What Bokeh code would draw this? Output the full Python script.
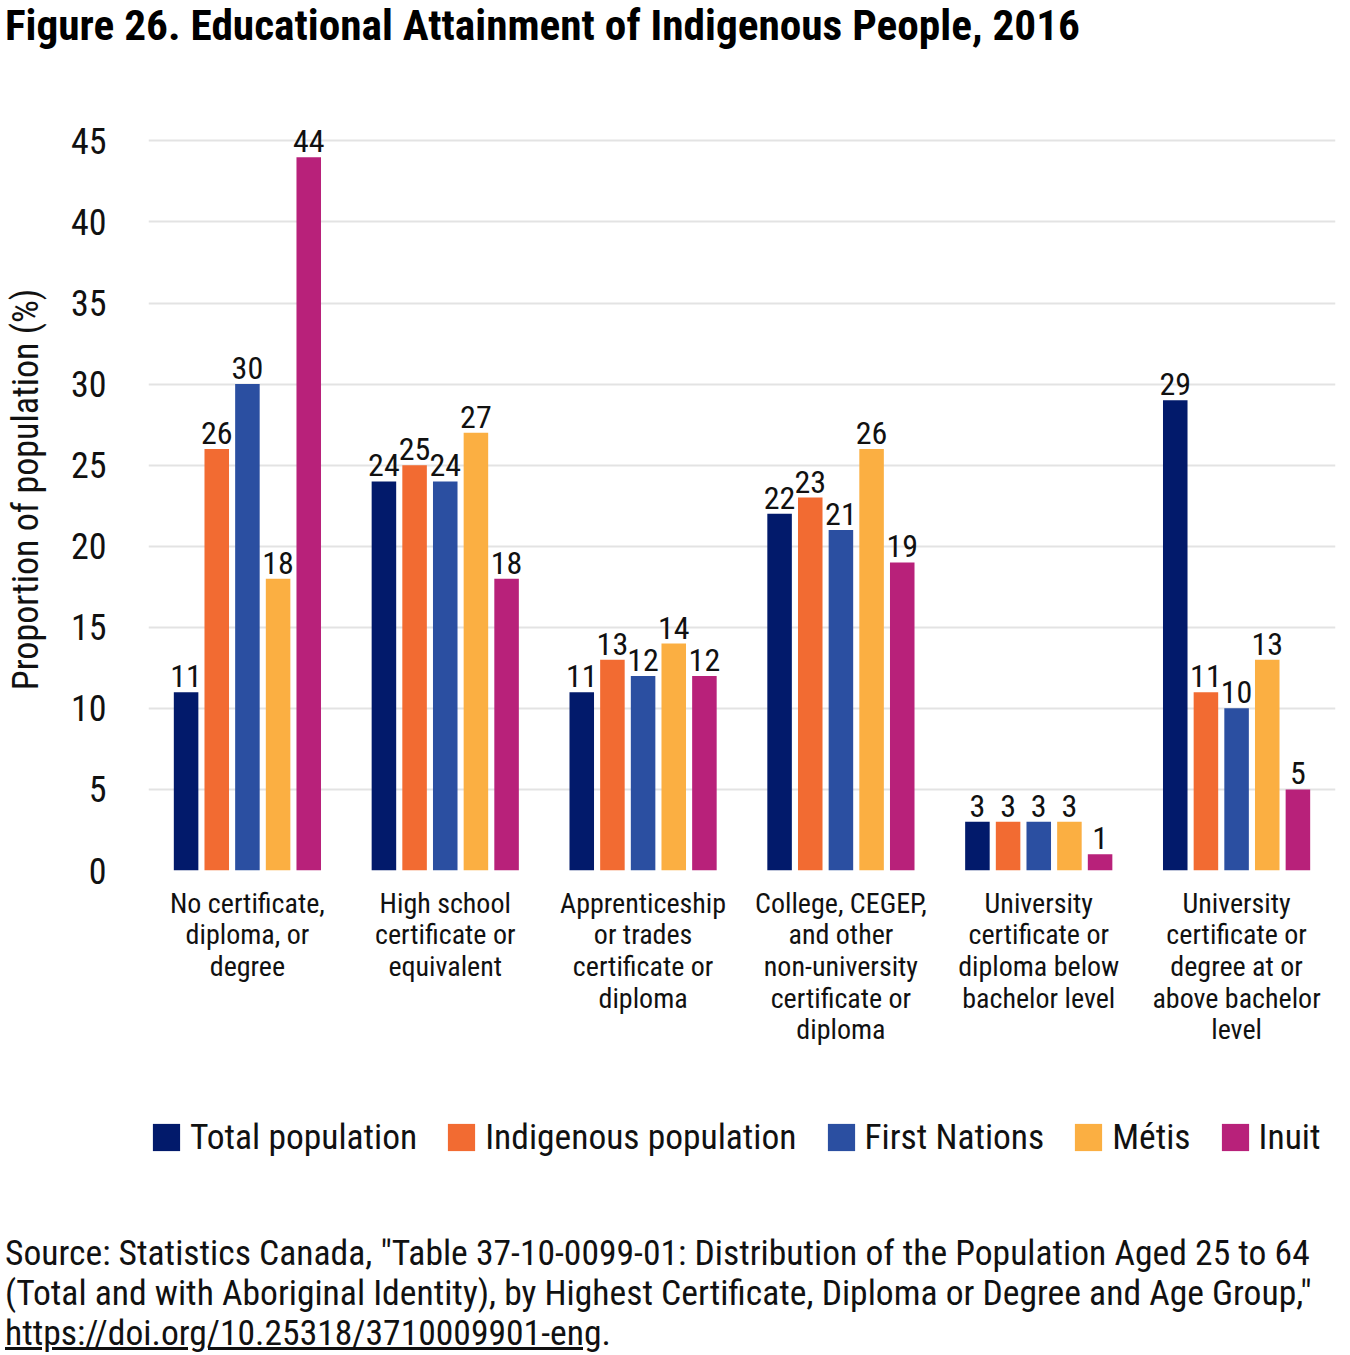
from bokeh.plotting import figure
from bokeh.models import ColumnDataSource, FactorRange, Range1d, FixedTicker, Legend, LegendItem, Div
from bokeh.layouts import column
from bokeh.transform import dodge
from bokeh.core.properties import value
from bokeh.embed import file_html
from bokeh.resources import INLINE

categories = [
    "No certificate,\ndiploma, or\ndegree",
    "High school\ncertificate or\nequivalent",
    "Apprenticeship\nor trades\ncertificate or\ndiploma",
    "College, CEGEP,\nand other\nnon-university\ncertificate or\ndiploma",
    "University\ncertificate or\ndiploma below\nbachelor level",
    "University\ncertificate or\ndegree at or\nabove bachelor\nlevel",
]
series_names = ["Total population", "Indigenous population", "First Nations", "Métis", "Inuit"]
total_population = [11, 24, 11, 22, 3, 29]
indigenous_population = [26, 25, 13, 23, 3, 11]
first_nations = [30, 24, 12, 21, 3, 10]
metis = [18, 27, 14, 26, 3, 13]
inuit = [44, 18, 12, 19, 1, 5]
y_ticks = [0, 5, 10, 15, 20, 25, 30, 35, 40, 45]
colors = ["#021a6b", "#f26b32", "#2b4fa1", "#fbaf42", "#b8217a"]

title_text = "Figure 26. Educational Attainment of Indigenous People, 2016"
source_lines = [
    "Source: Statistics Canada, \"Table 37-10-0099-01: Distribution of the Population Aged 25 to 64",
    "(Total and with Aboriginal Identity), by Highest Certificate, Diploma or Degree and Age Group,\"",
    "https://doi.org/10.25318/3710009901-eng",
]

FONT = "Roboto Condensed, DejaVu Sans Condensed, Liberation Sans Narrow, Roboto, sans-serif"
FONT_CSS = "'Roboto Condensed', 'DejaVu Sans Condensed', 'Liberation Sans Narrow', Roboto, sans-serif"

series_values = [total_population, indigenous_population, first_nations, metis, inuit]
cols = ["s0", "s1", "s2", "s3", "s4"]
data = {"cat": categories}
for c, v in zip(cols, series_values):
    data[c] = v
    data[c + "_lbl"] = [str(x) for x in v]
source = ColumnDataSource(data)

W = 1350
p = figure(
    width=W, height=1035,
    x_range=FactorRange(factors=categories, range_padding=0),
    y_range=Range1d(0, 47),
    output_backend="svg", toolbar_location=None,
    min_border_left=148, min_border_right=15, min_border_top=48, min_border_bottom=225,
    margin=0,
)
p.outline_line_color = None

offsets = [-0.31, -0.155, 0.0, 0.155, 0.31]
renderers = []
for c, off, col in zip(cols, offsets, colors):
    r = p.vbar(x=dodge("cat", off, range=p.x_range), top=c, width=0.124,
               source=source, fill_color=col, line_color=None)
    renderers.append(r)
    p.text(x=dodge("cat", off, range=p.x_range), y=c, text=c + "_lbl", source=source,
           text_align="center", text_baseline="bottom", y_offset=-5,
           text_font=value(FONT), text_font_size="32px", text_color="#111111")

p.yaxis.ticker = FixedTicker(ticks=y_ticks)
p.yaxis.axis_line_color = None
p.yaxis.major_tick_line_color = None
p.yaxis.minor_tick_line_color = None
p.yaxis.major_label_text_font = FONT
p.yaxis.major_label_text_font_size = "36px"
p.yaxis.major_label_text_color = "#111111"
p.yaxis.major_label_standoff = 36
p.yaxis.axis_label = "Proportion of population (%)"
p.yaxis.axis_label_text_font = FONT
p.yaxis.axis_label_text_font_size = "36px"
p.yaxis.axis_label_text_font_style = "normal"
p.yaxis.axis_label_text_color = "#111111"
p.yaxis.axis_label_standoff = 21

p.xaxis.axis_line_color = None
p.xaxis.major_tick_line_color = None
p.xaxis.minor_tick_line_color = None
p.xaxis.major_label_text_font = FONT
p.xaxis.major_label_text_font_size = "28px"
p.xaxis.major_label_text_line_height = 0.96
p.xaxis.major_label_text_color = "#111111"
p.xaxis.major_label_standoff = 10
p.xaxis.major_label_orientation = "horizontal"

p.xgrid.grid_line_color = None
p.ygrid.grid_line_color = "#e3e3e3"
p.ygrid.grid_line_width = 2

# legend-only figure: its bars have zero width and lie outside its y range,
# so only the legend is visible (its frame is aligned with the main frame by the column)
pl = figure(width=W, height=138, x_range=FactorRange(factors=categories), y_range=Range1d(-2, -1),
            x_axis_type=None, y_axis_type=None,
            output_backend="svg", toolbar_location=None, min_border=0,
            min_border_left=0, min_border_right=0, min_border_top=0, min_border_bottom=0, margin=0)
pl.grid.visible = False
pl.outline_line_color = None
leg_renderers = [pl.vbar(x="cat", top=c, width=0, source=source, fill_color=col, line_color=None)
                 for c, col in zip(cols, colors)]
items = [LegendItem(label=n, renderers=[r]) for n, r in zip(series_names, leg_renderers)]
legend = Legend(items=items, orientation="horizontal", location=(1, 75),
                label_text_font=FONT, label_text_font_size="35.5px", label_text_color="#111111",
                glyph_width=34, glyph_height=34, label_standoff=7, spacing=27,
                padding=0, margin=0, border_line_color=None, background_fill_alpha=0)
pl.add_layout(legend, "center")

title_div = Div(text=title_text, width=W, height=60, margin=0,
                styles={"font-family": FONT_CSS, "font-size": "43.3px", "font-weight": "bold",
                        "color": "#000", "line-height": "52px", "white-space": "nowrap",
                        "padding-left": "5px"})
src_html = "<br>".join(source_lines[:2]) + "<br><u>" + source_lines[2] + "</u>."
source_div = Div(text=src_html, width=W, height=122, margin=0,
                 styles={"font-family": FONT_CSS, "font-size": "35.6px", "color": "#111",
                         "line-height": "40px", "white-space": "nowrap", "padding-left": "5px"})

layout = column(title_div, p, pl, source_div, spacing=0, margin=0)
open("out.html", "w").write(file_html(layout, INLINE))
